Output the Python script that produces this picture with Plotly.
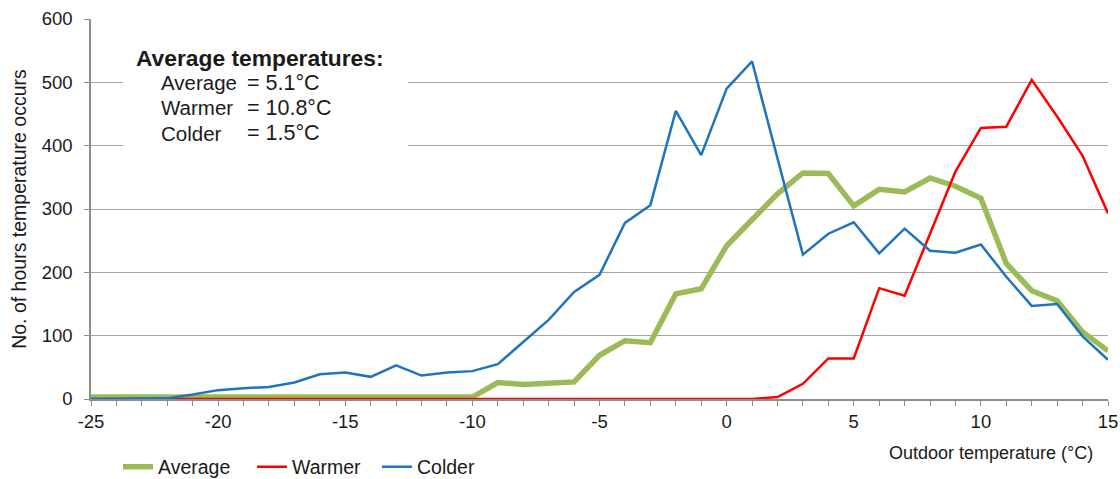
import plotly.graph_objects as go

temps = list(range(-25, 16))
average = [3]*16 + [26, 23, 25, 27, 69, 92, 89, 166, 174, 242, 283, 324, 357, 356,
                    305, 331, 327, 349, 336, 317, 214, 171, 155, 106, 76]
warmer = [0]*27 + [3, 24, 64, 64, 175, 163, 261, 359, 428, 430, 504, 446, 384, 293]
colder = [0, 0, 0, 1, 7, 14, 17, 19, 26, 39, 42, 35, 53, 37, 42, 44, 55, 90, 125, 169,
          196, 278, 306, 455, 385, 490, 533, 380, 228, 261, 279, 230, 269, 234, 231,
          244, 193, 147, 150, 99, 62]

x_ticks = list(range(-25, 16, 5))
x_ticklabels = [str(v) for v in x_ticks]

box_title = "Average temperatures:"
box_labels = ["Average", "Warmer", "Colder"]
box_values = ["= 5.1°C", "= 10.8°C", "= 1.5°C"]

FONT = "Liberation Sans, Arial, sans-serif"

fig = go.Figure()
fig.add_trace(go.Scatter(x=temps, y=average, mode="lines", name="Average", legendwidth=89,
                         line=dict(color="#9BBB59", width=5.5)))
fig.add_trace(go.Scatter(x=temps, y=warmer, mode="lines", name="Warmer", legendwidth=80,
                         line=dict(color="#FF0000", width=2.5)))
fig.add_trace(go.Scatter(x=temps, y=colder, mode="lines", name="Colder", legendwidth=80,
                         line=dict(color="#1F74BD", width=2.5)))

fig.update_layout(
    width=1120, height=479,
    margin=dict(l=91, r=12, t=19, b=80, autoexpand=False),
    paper_bgcolor="white", plot_bgcolor="white",
    font=dict(family=FONT, size=18, color="#1a1a1a"),
    showlegend=True,
    legend=dict(orientation="h", x=(118-91)/1017, y=-(467-399)/380, xanchor="left", yanchor="middle",
                font=dict(size=19.5), itemwidth=30, tracegroupgap=0),
)
fig.update_xaxes(range=[-25, 15], tickmode="array", tickvals=x_ticks, ticktext=x_ticklabels,
                 showgrid=False, zeroline=False,
                 showline=True, linecolor="#8c8c8c", linewidth=1.5,
                 ticks="outside", ticklen=5, tickcolor="#8c8c8c",
                 tickfont=dict(size=18.5),
                 minor=dict(dtick=1, tick0=-25, ticks="outside", ticklen=5, tickcolor="#8c8c8c"))
fig.update_yaxes(range=[0, 600], dtick=100, showgrid=True, gridcolor="#a6a6a6", gridwidth=1,
                 zeroline=False, showline=True, linecolor="#8c8c8c", linewidth=1.5,
                 ticks="outside", ticklen=5, tickcolor="#8c8c8c", ticklabelstandoff=8,
                 tickfont=dict(size=18.5),
                 title=dict(text="No. of hours temperature occurs", font=dict(size=19.5), standoff=10))

# white box behind the text
fig.add_shape(type="rect", xref="paper", yref="paper",
              x0=(123-91)/1017, x1=(408-91)/1017, y0=(399-150)/380, y1=(399-38)/380,
              fillcolor="white", line=dict(width=0), layer="above")

def px_x(px):
    return (px - 91) / 1017

def px_y(py):
    return (399 - py) / 380

fig.add_annotation(x=px_x(134), y=px_y(58), xref="paper", yref="paper", text="<b>" + box_title + "</b>",
                   showarrow=False, xanchor="left", yanchor="middle", font=dict(size=22.8))
for i, (lab, val) in enumerate(zip(box_labels, box_values)):
    yy = px_y(83 + 25 * i)
    fig.add_annotation(x=px_x(159), y=yy, xref="paper", yref="paper", text=lab,
                       showarrow=False, xanchor="left", yanchor="middle", font=dict(size=20.5))
    fig.add_annotation(x=px_x(245), y=yy, xref="paper", yref="paper", text=val,
                       showarrow=False, xanchor="left", yanchor="middle", font=dict(size=21.5))

fig.add_annotation(x=px_x(1095), y=px_y(453), xref="paper", yref="paper",
                   text="Outdoor temperature (°C)", showarrow=False,
                   xanchor="right", yanchor="middle", font=dict(size=18))

fig.write_html("out.html", config={"displayModeBar": False},
               post_script="document.body.style.margin='0px';")
